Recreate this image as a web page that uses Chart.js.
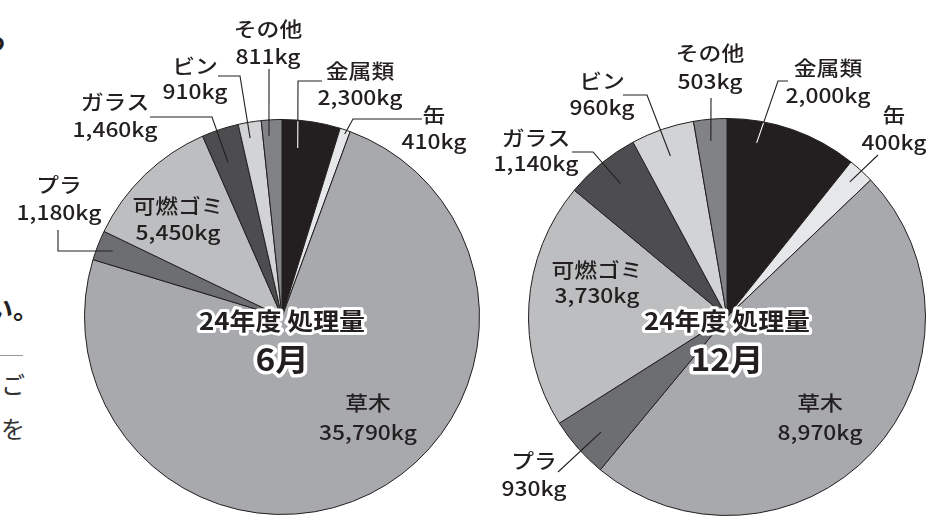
<!DOCTYPE html>
<html lang="ja">
<head>
<meta charset="utf-8">
<script src="https://cdn.jsdelivr.net/npm/chart.js@4.4.1/dist/chart.umd.min.js"></script>
<style>
  body { margin: 0; background: #fff; }
  #wrap { position: relative; width: 937px; height: 518px; overflow: hidden; font-family: "Noto Sans CJK JP", sans-serif; color: #231f20; }
  #wrap canvas { position: absolute; left: 0; top: 0; }
  .frag { position: absolute; line-height: 1; white-space: nowrap; }
  .body-text { font-size: 24px; font-weight: 400; color: #333; }
</style>
</head>
<body>
<div id="wrap">
  <!-- 切れている本文の端 -->
  <div class="frag" style="left:-19px;top:27px;font-size:26px;font-weight:700;">っ</div>
  <div class="frag" style="left:-13px;top:295px;font-size:26px;font-weight:700;">い。</div>
  <div class="frag" style="left:0;top:355px;width:23px;height:1px;background:#9a9a9a;"></div>
  <div class="frag body-text" style="left:1px;top:372px;">ご</div>
  <div class="frag body-text" style="left:1px;top:416px;">を</div>
  <div class="frag body-text" style="left:-20px;top:452px;">、</div>
  <canvas id="juneChart" width="937" height="518"></canvas>
  <canvas id="decChart" width="937" height="518"></canvas>
</div>
<script>
// データ
const categories = ["金属類", "缶", "草木", "プラ", "可燃ゴミ", "ガラス", "ビン", "その他"];
const juneValues = [2300, 410, 35790, 1180, 5450, 1460, 910, 811];
const decValues = [2000, 400, 8970, 930, 3730, 1140, 960, 503];
const titleText = "24年度 処理量";
const monthLabels = ["6月", "12月"];

const sliceColors = ['#231f20', '#e6e7e8', '#a7a9ac', '#6d6e71', '#bcbec0', '#4d4d4f', '#d1d3d4', '#808285'];
const ink = '#231f20';

// ラベル位置 (中心からのずれ) と引き出し線
const juneLayout = [
    { tx: 78, ty: -246, lh: 26, t: 0.31, r: 0.86, line: [[16, -236], [40, -236]], inner: '#fff' },
    { tx: 152, ty: -202, lh: 26, t: 0.58, r: 0.98, line: [[71, -198], [140, -198]] },
    { tx: 86, ty: 86, lh: 29 },
    { tx: -223, ty: -132, lh: 27, t: 0.5, r: 0.92, line: [[-224, -66], [-224, -87]] },
    { tx: -104, ty: -111, lh: 26 },
    { tx: -167, ty: -215, lh: 27, t: 0.41, r: 0.83, line: [[-70, -200], [-132, -200]] },
    { tx: -87, ty: -251, lh: 25, t: 0.40, r: 0.92, line: [[-42, -241], [-64, -241]] },
    { tx: -14, ty: -288, lh: 27, t: 0.32, r: 0.92, line: [[-13, -248]] }
];
const decLayout = [
    { tx: 101, ty: -249, lh: 27, t: 0.25, r: 0.89, line: [[51, -236], [61, -236]], inner: '#fff' },
    { tx: 167, ty: -202, lh: 27, t: 0.47, r: 0.92, line: [[151, -162]] },
    { tx: 93, ty: 86, lh: 29 },
    { tx: -193, ty: 144, lh: 27, t: 0.44, r: 0.86, line: [[-169, 155]] },
    { tx: -130, ty: -47, lh: 25 },
    { tx: -191, ty: -179, lh: 25, t: 0.53, r: 0.86, line: [[-134, -165], [-155, -165]] },
    { tx: -125, ty: -236, lh: 26, t: 0.48, r: 0.86, line: [[-80, -222], [-104, -222]] },
    { tx: -17, ty: -264, lh: 28, t: 0.46, r: 0.89, line: [[-16, -219]] }
];

function kg(v) {
    return String(v).replace(/\B(?=(\d{3})+(?!\d))/g, ",") + "kg";
}

function stretchText(ctx, text, x, y, sx) {
    ctx.save();
    ctx.translate(x, y);
    ctx.scale(sx, 1);
    ctx.fillText(text, 0, 0);
    ctx.restore();
}

const labelPlugin = {
    id: 'sliceLabels',
    afterDraw(chart, args, opts) {
        const ctx = chart.ctx;
        const meta = chart.getDatasetMeta(0);
        const values = chart.data.datasets[0].data;

        meta.data.forEach((arc, i) => {
            const lay = opts.layout[i];
            const cx = arc.x, cy = arc.y;

            // 引き出し線
            if (lay.line) {
                const a = arc.startAngle + lay.t * (arc.endAngle - arc.startAngle);
                const pts = [[cx + Math.cos(a) * arc.outerRadius * lay.r, cy + Math.sin(a) * arc.outerRadius * lay.r]];
                lay.line.forEach(p => pts.push([cx + p[0], cy + p[1]]));

                const path = () => {
                    ctx.beginPath();
                    ctx.moveTo(pts[0][0], pts[0][1]);
                    for (let k = 1; k < pts.length; k++) ctx.lineTo(pts[k][0], pts[k][1]);
                };
                ctx.save();
                ctx.lineWidth = 1.1;
                ctx.strokeStyle = ink;
                path();
                ctx.stroke();
                if (lay.inner) {
                    ctx.beginPath();
                    ctx.arc(cx, cy, arc.outerRadius - 1, 0, Math.PI * 2);
                    ctx.clip();
                    ctx.strokeStyle = lay.inner;
                    path();
                    ctx.stroke();
                }
                ctx.restore();
            }

            // ラベル文字
            ctx.save();
            ctx.fillStyle = ink;
            ctx.textAlign = 'center';
            ctx.textBaseline = 'middle';
            ctx.font = '500 20px "Noto Sans CJK JP"';
            stretchText(ctx, categories[i], cx + lay.tx, cy + lay.ty, 1.14);
            stretchText(ctx, kg(values[i]), cx + lay.tx, cy + lay.ty + lay.lh, 1.14);
            ctx.restore();
        });

        // 中央の見出し
        const c = meta.data[0];
        ctx.save();
        ctx.textAlign = 'center';
        ctx.textBaseline = 'middle';
        ctx.lineJoin = 'round';
        ctx.strokeStyle = '#fff';
        ctx.fillStyle = ink;
        const heads = [[titleText, 'bold 24px "Noto Sans CJK JP"', 4, 6], [opts.month, 'bold 31px "Noto Sans CJK JP"', 42, 7]];
        heads.forEach(h => {
            ctx.font = h[1];
            ctx.lineWidth = h[3];
            ctx.save();
            ctx.translate(c.x, c.y + h[2]);
            ctx.scale(1.08, 1);
            ctx.strokeText(h[0], 0, 0);
            ctx.fillText(h[0], 0, 0);
            ctx.restore();
        });
        ctx.restore();
    }
};

function makePie(id, values, layout, month, padding) {
    new Chart(document.getElementById(id), {
        type: 'pie',
        data: {
            labels: categories,
            datasets: [{
                data: values,
                backgroundColor: sliceColors,
                borderColor: ink,
                borderWidth: 1
            }]
        },
        options: {
            responsive: false,
            animation: false,
            events: [],
            layout: { padding: padding },
            plugins: {
                legend: { display: false },
                tooltip: { enabled: false },
                sliceLabels: { layout: layout, month: month }
            }
        },
        plugins: [labelPlugin]
    });
}

makePie("juneChart", juneValues, juneLayout, monthLabels[0], { left: 84, right: 457, top: 119, bottom: 3 });
makePie("decChart", decValues, decLayout, monthLabels[1], { left: 528, right: 11, top: 118, bottom: 2 });
</script>
</body>
</html>
